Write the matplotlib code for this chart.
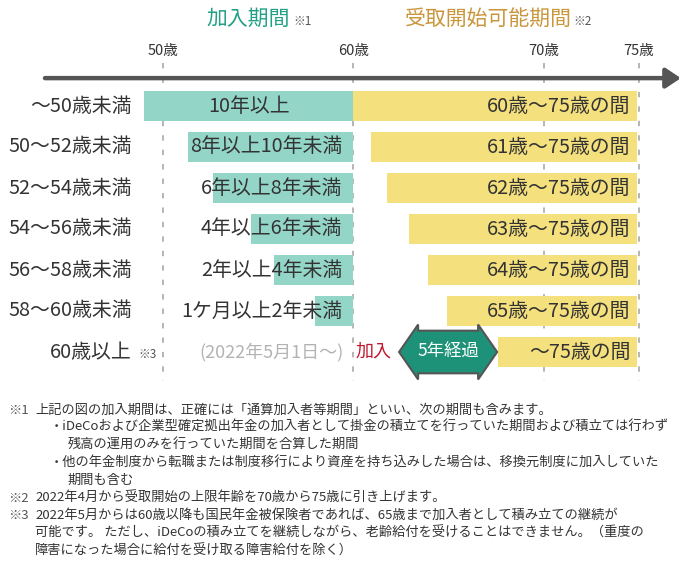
import matplotlib.pyplot as plt
from matplotlib.patches import Polygon

plt.rcParams['font.family'] = ['Noto Sans CJK JP', 'DejaVu Sans']

# rows (top to bottom)
row_labels = ["〜50歳未満", "50〜52歳未満", "52〜54歳未満", "54〜56歳未満",
              "56〜58歳未満", "58〜60歳未満", "60歳以上"]

# join period bars (age where bar starts, all end at 60)
join_start = [49.0, 51.3, 52.6, 54.6, 55.85, 58.0]
join_end = 60
join_labels = ["10年以上", "8年以上10年未満", "6年以上8年未満", "4年以上6年未満",
               "2年以上4年未満", "1ケ月以上2年未満"]

# receiving start bars
recv_start = [60.0, 60.9, 61.75, 62.9, 63.9, 64.9, 67.6]
recv_end = 74.9
recv_labels = ["60歳〜75歳の間", "61歳〜75歳の間", "62歳〜75歳の間", "63歳〜75歳の間",
               "64歳〜75歳の間", "65歳〜75歳の間", "〜75歳の間"]

# axis ticks
tick_ages = [50, 60, 70, 75]
tick_labels = ["50歳", "60歳", "70歳", "75歳"]

# 5 year arrow on last row
arrow_from = 62.4
arrow_to = 67.55
arrow_text = "5年経過"

notes = [
    (8, "※1", 35, "上記の図の加入期間は、正確には「通算加入者等期間」といい、次の期間も含みます。"),
    (None, None, 50, "・iDeCoおよび企業型確定拠出年金の加入者として掛金の積立てを行っていた期間および積立ては行わず"),
    (None, None, 68, "残高の運用のみを行っていた期間を合算した期間"),
    (None, None, 50, "・他の年金制度から転職または制度移行により資産を持ち込みした場合は、移換元制度に加入していた"),
    (None, None, 68, "期間も含む"),
    (8, "※2", 35, "2022年4月から受取開始の上限年齢を70歳から75歳に引き上げます。"),
    (8, "※3", 35, "2022年5月からは60歳以降も国民年金被保険者であれば、65歳まで加入者として積み立ての継続が"),
    (None, None, 35, "可能です。 ただし、iDeCoの積み立てを継続しながら、老齢給付を受けることはできません。（重度の"),
    (None, None, 35, "障害になった場合に給付を受け取る障害給付を除く）"),
]

TEAL_BAR = "#93d6c8"
YELLOW = "#f4e07d"
TEAL_TITLE = "#22a085"
GOLD = "#c9963c"
DARK = "#333333"
FS = 14.3

W, H = 690, 564
fig = plt.figure(figsize=(W / 100, H / 100), dpi=100)
ax = fig.add_axes([0, 0, 1, 1])
# x in years of age, y in row index
px = 19.04
ax.set_xlim(50 - 163 / px, 50 + (W - 163) / px)
ax.set_ylim((H - 106) / 41, -106 / 41)
ax.axis("off")

bh = 0.71
n = len(row_labels)

# dashed guide lines
for a, t in zip(tick_ages, tick_labels):
    ax.plot([a, a], [-1.05, 6.7], color="#b0b0b0", lw=1.3, ls=(0, (3, 5)), zorder=1)
    ax.text(a, -1.33, t, ha="center", va="center", fontsize=10.5, color=DARK)

# main axis arrow
ax.annotate("", xy=(77.2, -0.68), xytext=(43.8, -0.68),
            arrowprops=dict(arrowstyle="-|>,head_length=0.45,head_width=0.3",
                            lw=3.2, color="#555555", mutation_scale=20, shrinkA=0, shrinkB=0))

# headers
ax.text(54.5, -2.12, "加入期間", ha="center", va="center", fontsize=15, color=TEAL_TITLE)
ax.text(56.85, -2.05, "※1", ha="left", va="center", fontsize=8.5, color="#555555")
ax.text(67.1, -2.12, "受取開始可能期間", ha="center", va="center", fontsize=15, color=GOLD)
ax.text(71.55, -2.05, "※2", ha="left", va="center", fontsize=8.5, color="#555555")

# bars
ax.barh(range(len(join_start)), [join_end - s for s in join_start], left=join_start,
        height=bh, color=TEAL_BAR, zorder=2)
ax.barh(range(n), [recv_end - s for s in recv_start], left=recv_start,
        height=bh, color=YELLOW, zorder=2)

for i, lab in enumerate(row_labels):
    ax.text(48.37, i, lab, ha="right", va="center", fontsize=FS, color=DARK, zorder=3)

for i, lab in enumerate(join_labels):
    if i == 0:
        ax.text((join_start[i] + join_end) / 2, i, lab, ha="center", va="center",
                fontsize=FS, color=DARK, zorder=3)
    else:
        ax.text(join_end - 0.6, i, lab, ha="right", va="center", fontsize=FS,
                color=DARK, zorder=3)

for i, lab in enumerate(recv_labels):
    ax.text(recv_end - 0.35, i, lab, ha="right", va="center", fontsize=FS,
            color=DARK, zorder=3)

# last row extras
last = n - 1
ax.text(48.7, last + 0.07, "※3", ha="left", va="center", fontsize=8.5, color="#555555")
ax.text(51.9, last, "(2022年5月1日〜)", ha="left", va="center", fontsize=13,
        color="#b3b3b3")
ax.text(60.1, last, "加入", ha="left", va="center", fontsize=13, color="#c0172b")

hl = 1.0
bw, hw = 0.52, 0.67
verts = [(arrow_from, last), (arrow_from + hl, last - hw), (arrow_from + hl, last - bw),
         (arrow_to - hl, last - bw), (arrow_to - hl, last - hw), (arrow_to, last),
         (arrow_to - hl, last + hw), (arrow_to - hl, last + bw), (arrow_from + hl, last + bw),
         (arrow_from + hl, last + hw)]
ax.add_patch(Polygon(verts, closed=True, facecolor="#1e9278", edgecolor="#555555",
                     lw=1.5, zorder=3))
ax.text((arrow_from + arrow_to) / 2, last, arrow_text, ha="center", va="center",
        fontsize=12.5, color="white", zorder=4)

# footnotes
y0, dy = 410, 17.6
for k, (mx, mark, tx, txt) in enumerate(notes):
    y = 1 - (y0 + k * dy) / H
    if mark:
        fig.text(mx / W, y, mark, ha="left", va="center", fontsize=9.5, color="#555555")
    fig.text(tx / W, y, txt, ha="left", va="center", fontsize=9.5, color=DARK)

fig.savefig("out.png", dpi=100)
